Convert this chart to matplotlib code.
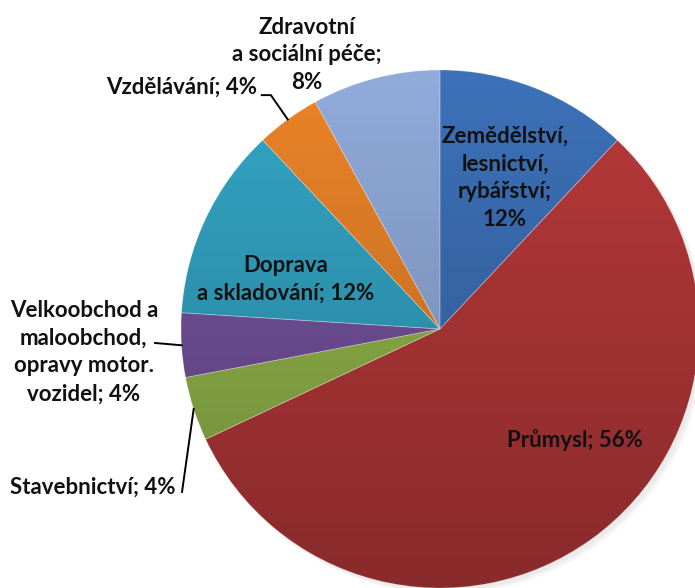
import numpy as np
import matplotlib

matplotlib.use('Agg')
import matplotlib.pyplot as plt
from matplotlib.colors import to_rgb

plt.rcParams['font.family'] = ['Lato', 'DejaVu Sans']

# data
labels = ['Zemědělství,\nlesnictví,\nrybářství;\n12%',
          'Průmysl; 56%',
          'Stavebnictví; 4%',
          'Velkoobchod a\nmaloobchod,\nopravy motor.\nvozidel; 4%',
          'Doprava\na skladování; 12%',
          'Vzdělávání; 4%',
          'Zdravotní\na sociální péče;\n8%']
shares = [12, 56, 4, 4, 12, 4, 8]
colors = ['#3D71B9', '#B9393A', '#95B94B', '#7754A1', '#33A6C6', '#EC8429', '#91ABDB']

# label placement (x, y in pie radius units) and which ones get a leader line
label_pos = [(0.251, 0.583), (0.521, -0.429), (-1.340, -0.610), (-1.375, -0.089),
             (-0.595, 0.193), (-0.996, 0.934), (-0.514, 1.058)]
leader_start = {2: (-0.996, -0.629), 3: (-1.100, -0.054), 5: (-0.653, 0.903)}

fig = plt.figure(figsize=(6.95, 5.88), dpi=100)
ax = fig.add_axes([0, 0, 1, 1])
R = 259.0
ax.set_xlim(-440 / R, (695 - 440) / R)
ax.set_ylim(-(588 - 329) / R, 329 / R)
ax.set_aspect('equal')
ax.axis('off')

# soft shadow
for k, a in enumerate([0.05, 0.05, 0.05]):
    sh = plt.Circle((0.012 + 0.006 * k, -0.012 - 0.006 * k), 1.0, color='#808080', alpha=a, lw=0)
    ax.add_patch(sh)

wedges, _ = ax.pie(shares, startangle=90, counterclock=False, radius=1.0,
                   colors=['none'] * len(shares), wedgeprops=dict(linewidth=0))

# vertical gradient fill for each wedge
yy = np.linspace(1, 0, 256)[:, None]
for w, c in zip(wedges, colors):
    top = np.array(to_rgb(c))
    shade = 0.74 + 0.26 * yy
    img = top[None, None, :] * shade[:, :, None] * np.ones((1, 2, 1))
    im = ax.imshow(img, extent=[-1, 1, -1, 1], origin='upper', aspect='auto',
                   interpolation='bilinear', zorder=1)
    im.set_clip_path(w)
    w.set_zorder(2)
    w.set_edgecolor((1, 1, 1, 0.25))
    w.set_linewidth(0.6)

ax.set_xlim(-440 / R, (695 - 440) / R)
ax.set_ylim(-(588 - 329) / R, 329 / R)

# labels and leader lines
cum = np.cumsum([0] + shares[:-1])
for i, (lab, (lx, ly)) in enumerate(zip(labels, label_pos)):
    ax.text(lx, ly, lab, ha='center', va='center', fontsize=16, fontweight='bold',
            color='#111111', linespacing=1.4, zorder=5)
    if i in leader_start:
        mid = (cum[i] + shares[i] / 2) / sum(shares) * 360
        ang = np.deg2rad(90 - mid)
        ex, ey = np.cos(ang), np.sin(ang)
        sx, sy = leader_start[i]
        if i == 5:
            xs = [sx - 0.035, sx, ex]
            ys = [sy, sy, ey]
        else:
            xs = [sx, ex]
            ys = [sy, ey]
        ax.plot(xs, ys, color='black', lw=1.4, zorder=5)

fig.savefig('out.png', dpi=100)
